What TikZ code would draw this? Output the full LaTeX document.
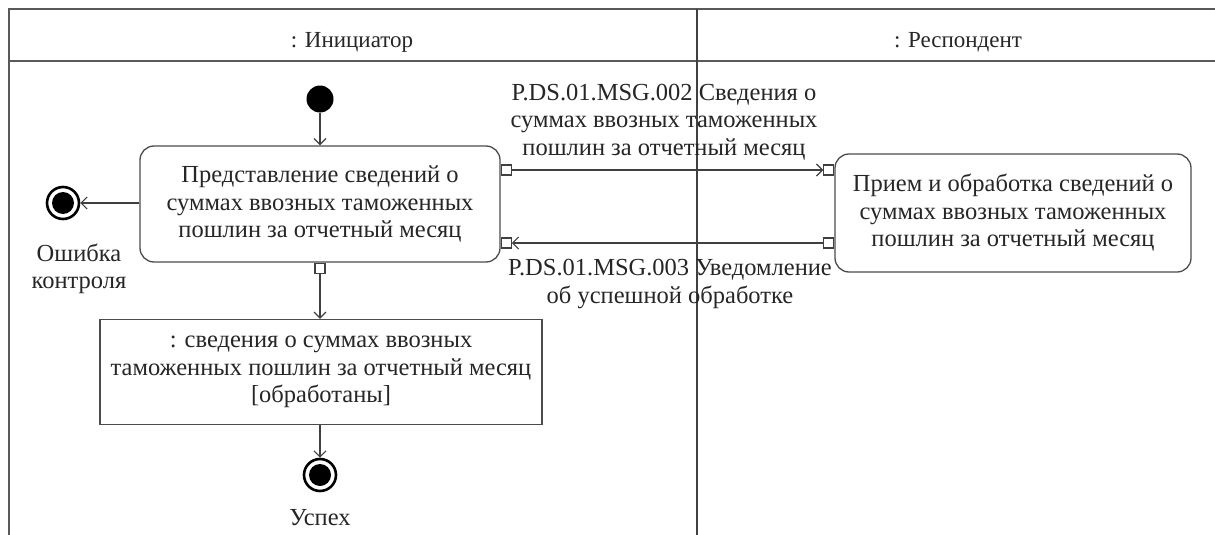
\documentclass[tikz,border=0pt]{standalone}
\usepackage{fontspec}
\setmainfont{Liberation Serif}
\usetikzlibrary{arrows.meta}
\tikzset{
  frameline/.style={draw=black!65, line width=2pt},
  laneline/.style={draw=black!75, line width=1.3pt},
  bodyfont/.style={font=\fontsize{24.5}{27.5}\selectfont},
  txt/.style={bodyfont, text=black!85, align=center, inner sep=0pt},
  headtxt/.style={font=\fontsize{23}{27}\selectfont, text=black!85, inner sep=0pt},
  action/.style={draw=black!70, line width=1.3pt, rounded corners=14pt, fill=white,
    bodyfont, text=black!85, align=center, inner sep=0pt},
  objbox/.style={draw=black!70, line width=1.3pt, fill=white,
    bodyfont, text=black!85, align=center, inner sep=0pt},
  pinbox/.style={draw=black!75, line width=1.1pt, fill=white, minimum size=10pt, inner sep=0pt},
  initnode/.style={circle, fill=black, minimum size=27pt, inner sep=0pt},
  finalnode/.style={circle, draw=black, line width=2.6pt, fill=white, minimum size=32pt, inner sep=0pt,
    path picture={\fill[black] (path picture bounding box.center) circle (11pt);}},
  flow/.style={draw=black!75, line width=1.2pt, -{Straight Barb[length=6pt,width=12pt]}},
}
\begin{document}
\begin{tikzpicture}[x=1pt,y=-1pt]
\useasboundingbox[fill=white] (0,0) rectangle (1215,535);
% frame
\draw[frameline] (9,535) -- (9,9) -- (1215,9);
\draw[frameline] (9,61) -- (1215,61);
\draw[laneline] (697,9) -- (697,535);
\node[headtxt] (h1) at (352,42) {: Инициатор};
\node[headtxt] (h2) at (958,42) {: Респондент};

% nodes
\node[initnode] (init) at (320,99) {};
\node[action, minimum width=360pt, minimum height=116pt] (a1) at (320,204)
  {Представление сведений о\\суммах ввозных таможенных\\пошлин за отчетный месяц};
\node[action, minimum width=356pt, minimum height=118pt] (a2) at (1013,213)
  {Прием и обработка сведений о\\суммах ввозных таможенных\\пошлин за отчетный месяц};
\node[objbox, minimum width=442pt, minimum height=105pt] (obj) at (321,372)
  {: сведения о суммах ввозных\\таможенных пошлин за отчетный месяц\\{[}обработаны{]}};
\node[finalnode] (ferr) at (63,203) {};
\node[txt] (lerr) at (79,269) {Ошибка\\контроля};
\node[finalnode] (fok) at (320,475) {};
\node[txt] (lok) at (320,518) {Успех};

% pins
\node[pinbox, anchor=west] (p1out) at (a1.east |- 0,170) {};
\node[pinbox, anchor=west] (p1in) at (a1.east |- 0,243) {};
\node[pinbox, anchor=east] (p2in) at (a2.west |- 0,170) {};
\node[pinbox, anchor=east] (p2out) at (a2.west |- 0,243) {};
\node[pinbox, anchor=north] (p1bot) at (a1.south) {};

% flows
\draw[flow] (init) -- (a1);
\draw[flow] (a1.west |- ferr) -- (ferr);
\draw[flow] (p1bot) -- (obj.north -| p1bot);
\draw[flow] (obj.south -| fok) -- (fok);
\draw[flow] (p1out) -- (p2in);
\draw[flow] (p2out) -- (p1in);

% message labels
\node[txt] (m1) at (664,122) {P.DS.01.MSG.002 Сведения о\\суммах ввозных таможенных\\пошлин за отчетный месяц};
\node[txt] (m2) at (670,284) {P.DS.01.MSG.003 Уведомление\\об успешной обработке};
\end{tikzpicture}
\end{document}
